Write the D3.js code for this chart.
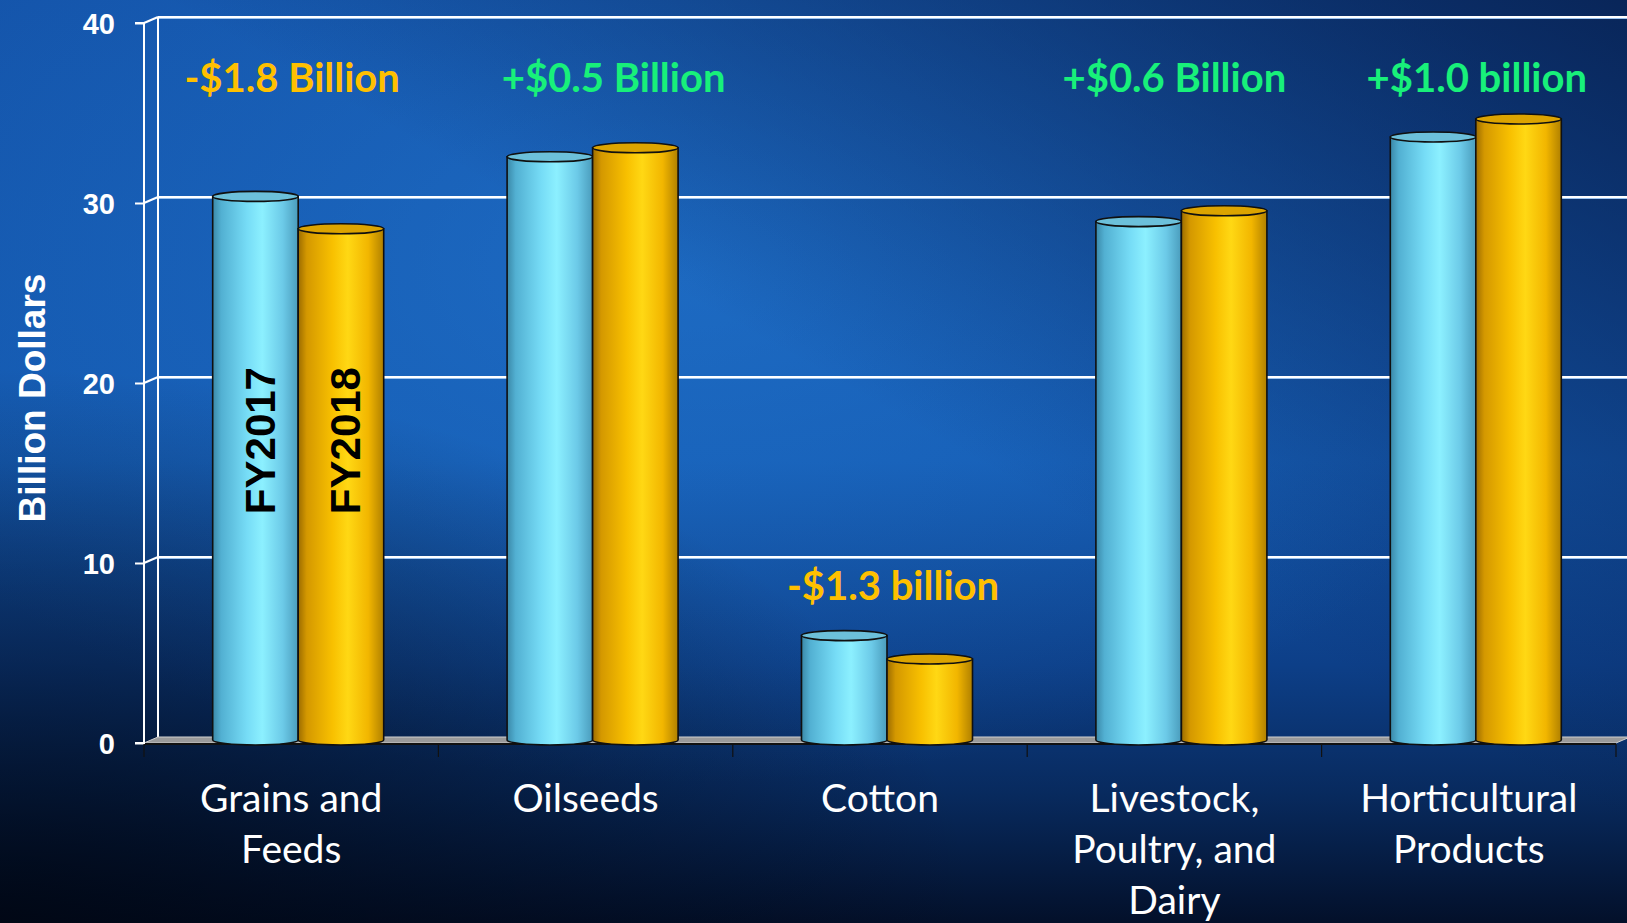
<!DOCTYPE html>
<html>
<head>
<meta charset="utf-8">
<script src="https://cdn.jsdelivr.net/npm/d3@7"></script>
<style>
  html, body { margin: 0; padding: 0; overflow: hidden; background: #0b2a60; }
  svg { display: block; }
</style>
</head>
<body>
<svg id="chart" width="1627" height="923"></svg>
<script>
// ---- data ----
const categories = ["Grains and\nFeeds", "Oilseeds", "Cotton", "Livestock,\nPoultry, and\nDairy", "Horticultural\nProducts"];
const seriesNames = ["FY2017", "FY2018"];
const fy2017 = [30.2, 32.4, 5.8, 28.8, 33.5];
const fy2018 = [28.4, 32.9, 4.5, 29.4, 34.5];
const changeLabels = ["-$1.8 Billion", "+$0.5 Billion", "-$1.3 billion", "+$0.6 Billion", "+$1.0 billion"];
const yTicks = [0, 10, 20, 30, 40];
const yTitle = "Billion Dollars";

// ---- layout ----
const W = 1627, H = 923;
const depth = { dx: 14, dy: -6 };          // 3-D wall offset
const noteNudge = [-6, 21, 6, -7, 1];       // horizontal nudge of the change notes
const svg = d3.select("#chart");

const x = d3.scaleBand().domain(d3.range(categories.length)).range([144, 1616]);
const y = d3.scaleLinear().domain([0, 40]).range([743, 23]);
const groupW = 171;
const inner = d3.scaleBand().domain(seriesNames).range([0, groupW]);

const defs = svg.append("defs");

// background
const bg = defs.append("linearGradient").attr("id", "bgV").attr("x1", 0).attr("y1", 0).attr("x2", 0).attr("y2", 1);
[[0, "#1454aa"], [0.5, "#1459b0"], [0.72, "#0d3f88"], [0.86, "#082a5e"], [1, "#03102a"]]
  .forEach(([o, c]) => bg.append("stop").attr("offset", o).attr("stop-color", c));
const glow = defs.append("radialGradient").attr("id", "bgGlow").attr("cx", 0.42).attr("cy", 0.3).attr("r", 0.55);
glow.append("stop").attr("offset", 0).attr("stop-color", "#2a86e0").attr("stop-opacity", 0.4);
glow.append("stop").attr("offset", 1).attr("stop-color", "#2a86e0").attr("stop-opacity", 0);
const shadeTR = defs.append("linearGradient").attr("id", "bgTR").attr("x1", 1).attr("y1", 0).attr("x2", 0.55).attr("y2", 0.45);
shadeTR.append("stop").attr("offset", 0).attr("stop-color", "#061a45").attr("stop-opacity", 0.8);
shadeTR.append("stop").attr("offset", 1).attr("stop-color", "#061a45").attr("stop-opacity", 0);
const shadeBL = defs.append("radialGradient").attr("id", "bgBL").attr("cx", 0).attr("cy", 1).attr("r", 0.6);
shadeBL.append("stop").attr("offset", 0).attr("stop-color", "#000510").attr("stop-opacity", 0.8);
shadeBL.append("stop").attr("offset", 1).attr("stop-color", "#000510").attr("stop-opacity", 0);

svg.append("rect").attr("width", W).attr("height", H).attr("fill", "url(#bgV)");
svg.append("rect").attr("width", W).attr("height", H).attr("fill", "url(#bgGlow)");
svg.append("rect").attr("width", W).attr("height", H).attr("fill", "url(#bgTR)");
svg.append("rect").attr("width", W).attr("height", H).attr("fill", "url(#bgBL)");

// cylinder shading
const palettes = {
  FY2017: { stops: [[0, "#3a88a8"], [0.1, "#52b0d2"], [0.4, "#76dcf6"], [0.58, "#8cf0ff"], [0.82, "#6ccae8"], [1, "#4a9cbc"]], top: "#6cc0da" },
  FY2018: { stops: [[0, "#9c6c00"], [0.1, "#d49800"], [0.4, "#f8c000"], [0.58, "#ffd814"], [0.82, "#f2b600"], [1, "#b08000"]], top: "#dca400" }
};
Object.entries(palettes).forEach(([k, p]) => {
  const g = defs.append("linearGradient").attr("id", "cyl" + k).attr("x1", 0).attr("x2", 1).attr("y1", 0).attr("y2", 0);
  p.stops.forEach(([o, c]) => g.append("stop").attr("offset", o).attr("stop-color", c));
});

// ---- back wall gridlines ----
const xLeft = x.range()[0], xRight = x.range()[1];
const grid = svg.append("g");
yTicks.filter(t => t > 0).forEach(t => {
  const yy = y(t);
  grid.append("line")
    .attr("x1", xLeft + depth.dx).attr("x2", xRight + depth.dx + 20)
    .attr("y1", yy + depth.dy + 1.5).attr("y2", yy + depth.dy + 1.5)
    .attr("stroke", "#9cc4f0").attr("stroke-width", 1.2);
  grid.append("line")
    .attr("x1", xLeft + depth.dx).attr("x2", xRight + depth.dx + 20)
    .attr("y1", yy + depth.dy).attr("y2", yy + depth.dy)
    .attr("stroke", "#ffffff").attr("stroke-width", 2.2);
  grid.append("line")
    .attr("x1", xLeft).attr("x2", xLeft + depth.dx)
    .attr("y1", yy).attr("y2", yy + depth.dy)
    .attr("stroke", "#ffffff").attr("stroke-width", 2);
});
// side wall edges
grid.append("line").attr("x1", xLeft + depth.dx).attr("x2", xLeft + depth.dx)
  .attr("y1", y(40) + depth.dy).attr("y2", y(0) + depth.dy)
  .attr("stroke", "#ffffff").attr("stroke-width", 2);

// floor
svg.append("path")
  .attr("d", `M${xLeft},${y(0)} L${xLeft + depth.dx},${y(0) + depth.dy} L${xRight + depth.dx},${y(0) + depth.dy} L${xRight},${y(0)} Z`)
  .attr("fill", "#9a9a9a").attr("stroke", "#d0d0d0").attr("stroke-width", 1);
svg.append("line").attr("x1", xLeft).attr("x2", xRight).attr("y1", y(0) + 1).attr("y2", y(0) + 1)
  .attr("stroke", "#111").attr("stroke-width", 2);

// front value axis
const yAxis = svg.append("g").attr("transform", `translate(${xLeft},0)`)
  .call(d3.axisLeft(y).tickValues(yTicks).tickSize(9).tickPadding(20).tickFormat(d3.format("d")));
yAxis.select(".domain").attr("stroke", "#ffffff").attr("stroke-width", 2)
  .attr("d", `M-9,${y(40)}H0V${y(0)}H-9`);
yAxis.selectAll(".tick line").attr("stroke", "#ffffff").attr("stroke-width", 2);
yAxis.selectAll(".tick text").attr("fill", "#ffffff")
  .attr("font-family", "'Liberation Sans', Arial, sans-serif").attr("font-weight", "bold").attr("font-size", 29)
  .attr("dy", "0.36em");

// category axis ticks
const xAxis = svg.append("g").attr("transform", `translate(0,${y(0) + 1})`);
x.domain().concat([categories.length]).forEach(i => {
  const xx = i < categories.length ? x(i) : xRight;
  xAxis.append("line").attr("x1", xx).attr("x2", xx).attr("y1", 0).attr("y2", 13)
    .attr("stroke", "#111").attr("stroke-width", 1.2);
});

// y title
svg.append("text")
  .attr("transform", `translate(45,398) rotate(-90)`)
  .attr("text-anchor", "middle")
  .attr("fill", "#ffffff")
  .attr("font-family", "'Liberation Sans', Arial, sans-serif").attr("font-weight", "bold").attr("font-size", 37)
  .text(yTitle);

// ---- cylinders ----
const values = { FY2017: fy2017, FY2018: fy2018 };
const ry = 5;
const bars = svg.append("g");
categories.forEach((c, i) => {
  const gx = x(i) + (x.bandwidth() - groupW) / 2 + depth.dx / 2;
  seriesNames.forEach(s => {
    const v = values[s][i];
    const bx = gx + inner(s), w = inner.bandwidth();
    const yb = y(0) + depth.dy / 2, yt = y(v) + depth.dy / 2;
    bars.append("path")
      .attr("d", `M${bx},${yt} L${bx},${yb} A${w / 2},${ry} 0 0 0 ${bx + w},${yb} L${bx + w},${yt} Z`)
      .attr("fill", `url(#cyl${s})`).attr("stroke", "#101010").attr("stroke-width", 1.6);
    bars.append("ellipse")
      .attr("cx", bx + w / 2).attr("cy", yt).attr("rx", w / 2).attr("ry", ry)
      .attr("fill", palettes[s].top).attr("stroke", "#101010").attr("stroke-width", 1.6);
    if (i === 0) {
      bars.append("text")
        .attr("transform", `translate(${bx + w / 2 + 4},${y(16.8)}) rotate(-90)`)
        .attr("text-anchor", "middle").attr("dy", "0.36em")
        .attr("fill", "#000").attr("font-family", "'Liberation Sans', Arial, sans-serif")
        .attr("font-weight", "bold").attr("font-size", 42)
        .text(s);
    }
  });
});

// ---- change notes ----
categories.forEach((c, i) => {
  const top = Math.max(fy2017[i], fy2018[i]);
  const cx = x(i) + x.bandwidth() / 2 + depth.dx / 2 + noteNudge[i];
  const yy = top > 20 ? y(40) + 69 : y(top) + depth.dy / 2 - 36;
  const neg = changeLabels[i].startsWith("-");
  svg.append("text")
    .attr("x", cx).attr("y", yy).attr("text-anchor", "middle")
    .attr("fill", neg ? "#ffc000" : "#18f07a")
    .attr("font-family", "Lato, 'Open Sans', sans-serif").attr("font-weight", "bold").attr("font-size", 40)
    .text(changeLabels[i]);
});

// ---- category labels ----
categories.forEach((c, i) => {
  const t = svg.append("text")
    .attr("x", x(i) + x.bandwidth() / 2).attr("y", 812).attr("text-anchor", "middle")
    .attr("fill", "#ffffff").attr("font-family", "Lato, 'Open Sans', sans-serif").attr("font-size", 39);
  c.split("\n").forEach((line, k) => {
    t.append("tspan").attr("x", x(i) + x.bandwidth() / 2).attr("dy", k === 0 ? 0 : 51).text(line);
  });
});
</script>
</body>
</html>
